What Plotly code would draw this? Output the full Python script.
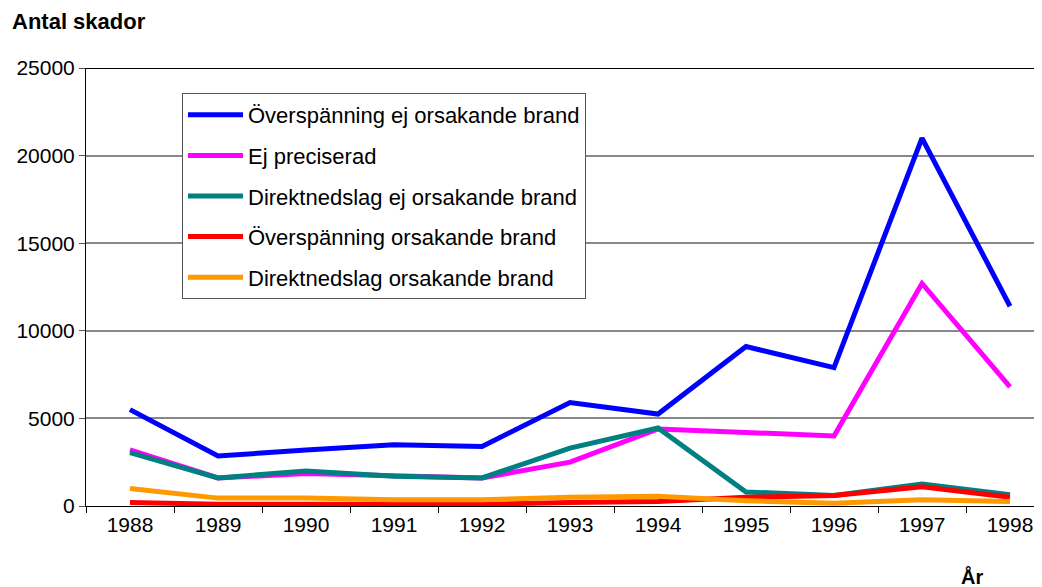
import plotly.graph_objects as go

years = ["1988", "1989", "1990", "1991", "1992", "1993", "1994", "1995", "1996", "1997", "1998"]
overspanning_ej_brand = [5500, 2850, 3200, 3500, 3400, 5900, 5250, 9100, 7900, 21000, 11400]
ej_preciserad = [3200, 1600, 1850, 1700, 1600, 2500, 4400, 4200, 4000, 12700, 6800]
direktnedslag_ej_brand = [3050, 1600, 2000, 1700, 1600, 3300, 4450, 800, 600, 1250, 650]
overspanning_brand = [200, 100, 100, 100, 100, 200, 250, 500, 600, 1100, 500]
direktnedslag_brand = [1000, 450, 450, 350, 350, 500, 550, 300, 150, 350, 250]
y_ticks = [0, 5000, 10000, 15000, 20000, 25000]

series = [
    ("Överspänning ej orsakande brand", overspanning_ej_brand, "#0000FF"),
    ("Ej preciserad", ej_preciserad, "#FF00FF"),
    ("Direktnedslag ej orsakande brand", direktnedslag_ej_brand, "#008080"),
    ("Överspänning orsakande brand", overspanning_brand, "#FF0000"),
    ("Direktnedslag orsakande brand", direktnedslag_brand, "#FF9900"),
]

font_family = "Liberation Sans, Arial, sans-serif"

# page body has an 8px offset; figure sized to fit the window
W, H = 1034, 579
L, T, B = 78, 60, 81
PW, PH = W - L, H - T - B

fig = go.Figure()
for i, (name, vals, color) in enumerate(series):
    fig.add_trace(go.Scatter(
        x=years, y=vals, name=name, mode="lines",
        line=dict(color=color, width=5),
        legendgroup=f"g{i}",
    ))

fig.update_layout(
    template="none",
    width=W, height=H,
    margin=dict(l=L, r=0, t=T, b=B, pad=0),
    paper_bgcolor="white", plot_bgcolor="white",
    font=dict(family=font_family, size=21, color="black"),
    showlegend=True,
    legend=dict(
        x=(182 - 86) / PW, y=(506 - 93) / PH, xanchor="left", yanchor="top",
        bordercolor="#555555", borderwidth=1, bgcolor="white",
        font=dict(size=22, family=font_family, color="black"),
        tracegroupgap=9, itemwidth=55,
    ),
    xaxis=dict(
        type="category", range=[-0.5, -0.5 + PW / 88.0], automargin=False,
        showline=True, linecolor="black", linewidth=1,
        ticks="outside", tickson="boundaries", ticklen=6, tickcolor="black",
        showgrid=False, tickfont=dict(size=21),
    ),
    yaxis=dict(
        range=[0, 25000], tickvals=y_ticks, tickformat="d", automargin=False,
        showline=True, linecolor="black", linewidth=1,
        ticks="outside", ticklen=6, tickcolor="#555555",
        showgrid=True, gridcolor="#888888", gridwidth=2,
        zeroline=False, tickfont=dict(size=21),
    ),
    annotations=[
        dict(text="<b>Antal skador</b>", xref="paper", yref="paper",
             x=-L / PW, y=(506 - 22) / PH, xanchor="left", yanchor="middle",
             showarrow=False, font=dict(size=22, family=font_family), xshift=2),
        dict(text="<b>År</b>", xref="paper", yref="paper",
             x=(972 - 86) / PW, y=-(576 - 506) / PH, xanchor="center", yanchor="middle",
             showarrow=False, font=dict(size=20, family=font_family)),
    ],
    shapes=[
        dict(type="line", xref="paper", yref="y", x0=0, x1=1, y0=25000, y1=25000,
             line=dict(color="black", width=2)),
    ],
)

fig.write_html("out.html")
